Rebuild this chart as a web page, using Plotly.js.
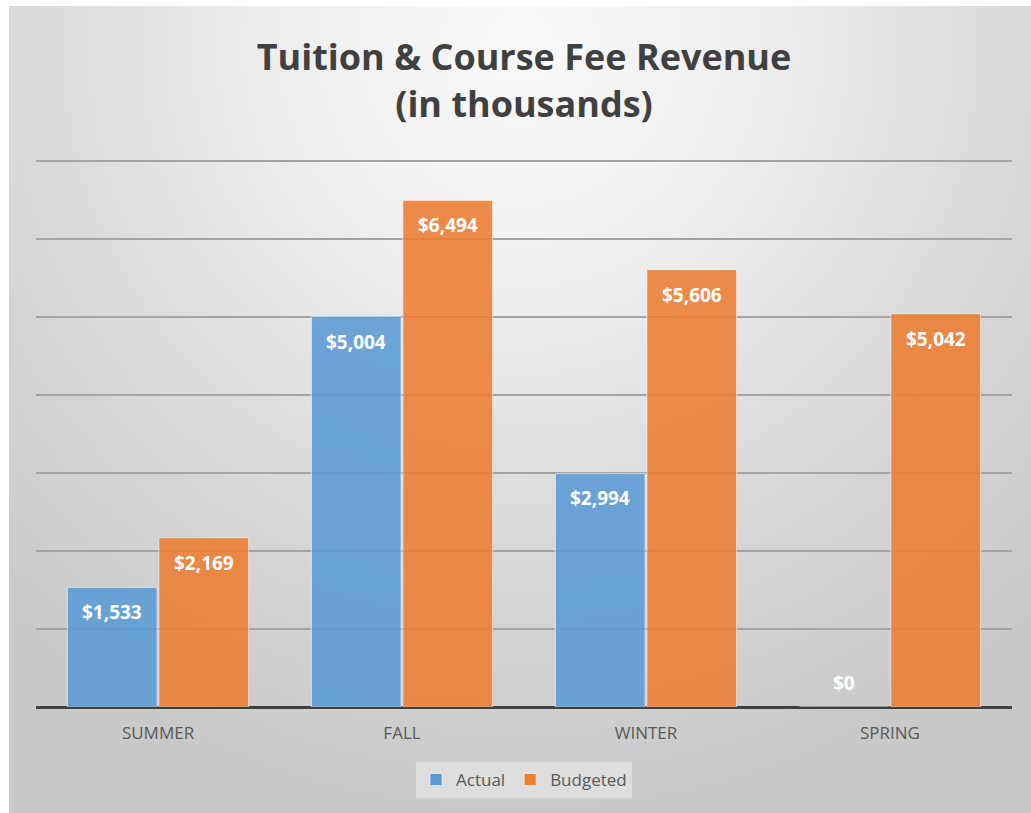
<!DOCTYPE html>
<html>
<head>
<meta charset="utf-8">
<script src="https://cdn.plot.ly/plotly-3.0.1.min.js"></script>
<style>
html,body{margin:0;padding:0;background:#fff;}
#bg{position:absolute;left:9px;top:6px;width:1022px;height:807px;
 background:radial-gradient(ellipse 75% 95% at 50% 5%, #fafafa 0%, #ececec 35%, #d9d9d9 65%, #c9c9c9 100%);}
#chart{position:absolute;left:0;top:0;width:1031px;height:813px;}
</style>
</head>
<body>
<div id="bg"></div>
<div id="chart"></div>
<script>
const categories = ["SUMMER", "FALL", "WINTER", "SPRING"];
const actual = [1533, 5004, 2994, 0];
const budgeted = [2169, 6494, 5606, 5042];
const seriesNames = ["Actual", "Budgeted"];

function fmt(v){ return "$" + v.toLocaleString("en-US"); }

const W = 1031, H = 813;
const margin = {l: 36, r: 19, t: 157, b: 106};
const bargap = 0.25;
const catWidthPx = (W - margin.l - margin.r) / categories.length;
const barOffsetPx = catWidthPx * (1 - bargap) / 4;

const labelFont = {family: "Open Sans, sans-serif", size: 19, color: "#ffffff", weight: 700};

const traces = [
  {
    type: "bar", name: seriesNames[0], x: categories, y: actual,
    marker: {color: "#5b9bd5", opacity: 0.88, line: {color: "rgba(255,255,255,0.6)", width: 1}},
    hoverinfo: "none"
  },
  {
    type: "bar", name: seriesNames[1], x: categories, y: budgeted,
    marker: {color: "#ed7d31", opacity: 0.88, line: {color: "rgba(255,255,255,0.6)", width: 1}},
    hoverinfo: "none"
  }
];

const annotations = [];
[actual, budgeted].forEach((series, si) => {
  series.forEach((v, i) => {
    annotations.push({
      x: categories[i], y: v, xref: "x", yref: "y",
      text: fmt(v), showarrow: false,
      xanchor: "center", yanchor: "middle",
      xshift: (si === 0 ? -1 : 1) * barOffsetPx,
      yshift: v > 0 ? -25 : 24,
      font: labelFont
    });
  });
});

const layout = {
  width: W, height: H,
  paper_bgcolor: "rgba(0,0,0,0)",
  plot_bgcolor: "rgba(0,0,0,0)",
  margin: margin,
  barmode: "group",
  bargap: bargap,
  bargroupgap: 0.02,
  title: {
    text: "Tuition & Course Fee Revenue<br>(in thousands)",
    font: {family: "Open Sans, sans-serif", size: 36, color: "#404040", weight: 700},
    x: 0.5, xanchor: "center", xref: "paper",
    y: 0.914, yanchor: "middle", yref: "container"
  },
  xaxis: {
    showgrid: false, showline: false, ticks: "",
    tickfont: {family: "Open Sans, sans-serif", size: 17, color: "#595959"},
    ticklabelstandoff: 14
  },
  yaxis: {
    range: [0, 7050], dtick: 1000, tick0: 0, showticklabels: false,
    showgrid: true, gridcolor: "#a3a3a3", gridwidth: 1.3,
    zeroline: true, zerolinecolor: "#404040", zerolinewidth: 3,
    showline: false, ticks: "", fixedrange: true
  },
  annotations: annotations,
  showlegend: true,
  legend: {
    orientation: "h", x: 0.5, xanchor: "center", y: -0.1, yanchor: "top",
    bgcolor: "rgba(235,235,235,0.6)",
    font: {family: "Open Sans, sans-serif", size: 17, color: "#595959"},
    itemwidth: 30, traceorder: "normal"
  },
  font: {family: "Open Sans, sans-serif"}
};

Plotly.newPlot("chart", traces, layout, {staticPlot: true, displayModeBar: false});
</script>
</body>
</html>
